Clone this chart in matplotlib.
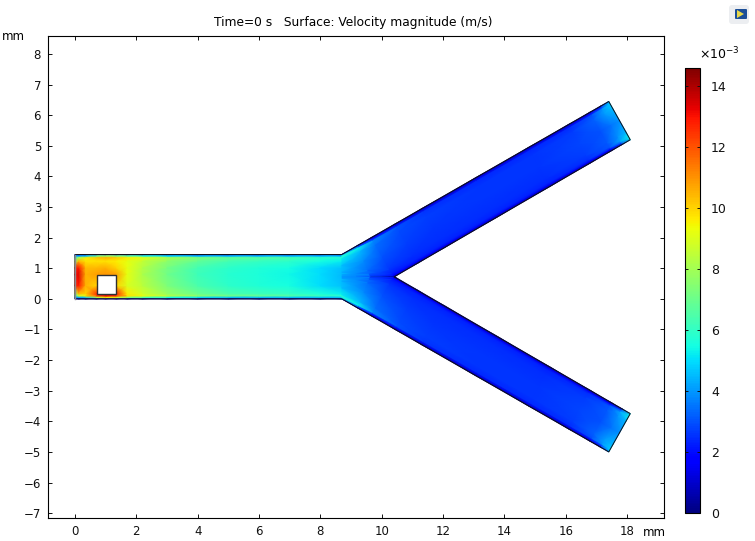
import numpy as np
import matplotlib
matplotlib.use("Agg")
import matplotlib.pyplot as plt
from matplotlib.patches import Rectangle, Polygon, FancyBboxPatch

W, H = 755, 541

# inlet channel, speed in 1e-3 m/s, rows = x stations, columns = across channel
channel_x = [0, 0.12, 0.35, 0.7, 1.0, 1.35, 1.7, 2.2, 3, 4, 5, 6, 7, 8, 8.7]
channel_t = [0, 0.03, 0.07, 0.12, 0.3, 0.55, 0.7, 0.85, 0.93, 0.97, 1]
channel_speed = [
    [2.0, 4.0, 6.0, 8.0, 12.5, 13, 12.5, 8.0, 6, 4, 2.0],
    [1.5, 4.0, 8.5, 10.5, 13, 13.4, 13, 10.5, 8, 4, 1.5],
    [1.0, 4.5, 9.5, 10, 10.5, 10.5, 10.4, 9.8, 9.5, 4.5, 1.0],
    [0.8, 8.0, 12, 12.5, 10, 10.8, 10.4, 9.8, 10.2, 7, 0.8],
    [0.8, 9.5, 13.2, 13.5, 10, 11, 10.6, 9.8, 10.6, 8, 0.8],
    [0.8, 9.0, 12.5, 12.8, 10, 10.8, 10, 9.6, 10.2, 7.5, 0.8],
    [0.8, 7.5, 9.8, 9.6, 9, 9.2, 9.2, 9.2, 9.6, 7, 0.8],
    [0.8, 6.5, 9.2, 8.8, 8.4, 8.2, 8.3, 8.6, 9.2, 6, 0.8],
    [0.8, 5.5, 8.3, 7.8, 7.3, 7.1, 7.2, 7.6, 8.2, 5, 0.8],
    [0.8, 5.0, 7.5, 7.0, 6.4, 6.2, 6.3, 6.8, 7.4, 4.5, 0.8],
    [0.8, 4.5, 7.0, 6.4, 5.9, 5.8, 5.9, 6.3, 6.9, 4.5, 0.8],
    [0.8, 4.5, 6.8, 6.2, 5.7, 5.6, 5.7, 6.1, 6.7, 4.5, 0.8],
    [0.8, 4.5, 6.5, 6.0, 5.5, 5.4, 5.5, 5.9, 6.4, 4.5, 0.8],
    [0.8, 4.5, 6.0, 5.6, 5.0, 5.0, 5.0, 5.5, 5.9, 4.5, 0.8],
    [0.8, 4.5, 5.8, 5.2, 4.6, 4.5, 4.6, 5.2, 5.8, 4.5, 0.8],
]

# outlet branch, rows = stations along the branch, columns = outer wall to inner wall
branch_s = [0, 0.06, 0.11, 0.2, 0.3, 0.5, 0.7, 0.85, 0.93, 0.97, 1]
branch_t = [0, 0.03, 0.08, 0.2, 0.5, 0.8, 0.92, 0.97, 1]
branch_speed = [
    [0.8, 4.5, 5.8, 5.2, 4.6, 4.5, 4.5, 4.5, 4.5],
    [0.6, 2.5, 5.2, 4.4, 3.8, 3.4, 3.2, 3.1, 3.0],
    [0.4, 1.8, 3.8, 3.4, 3.0, 2.6, 2.2, 1.6, 0.4],
    [0.3, 1.4, 3.0, 2.9, 2.7, 2.5, 2.3, 1.5, 0.3],
    [0.2, 1.2, 2.6, 2.7, 2.6, 2.5, 2.3, 1.5, 0.2],
    [0.2, 1.2, 2.4, 2.6, 2.6, 2.5, 2.3, 1.4, 0.2],
    [0.2, 1.2, 2.4, 2.6, 2.6, 2.5, 2.3, 1.4, 0.2],
    [0.2, 1.2, 2.5, 2.7, 2.8, 2.7, 2.5, 1.5, 0.2],
    [0.2, 1.5, 3.0, 3.2, 3.0, 3.1, 3.0, 1.8, 0.2],
    [0.3, 2.5, 4.0, 4.1, 3.5, 3.9, 4.2, 3.0, 0.5],
    [4.0, 5.0, 4.8, 4.5, 3.9, 4.5, 5.2, 5.5, 5.0],
]

# geometry in mm
channel_len = 8.7
channel_w = 1.45
branch_end_outer = (17.4, 6.45)
branch_end_inner = (18.1, 5.2)
crotch = (10.4, 0.72)
hole_x = (0.72, 1.34)
hole_y = (0.16, 0.78)

x_ticks = list(range(0, 20, 2))
y_ticks = list(range(-7, 9))
cbar_ticks = [0, 2, 4, 6, 8, 10, 12, 14]
vmax = 14.6
title = "Time=0 s   Surface: Velocity magnitude (m/s)"


def add_axes_px(fig, left, top, right, bottom):
    return fig.add_axes([left / W, 1 - bottom / H, (right - left) / W, (bottom - top) / H])


def branch_mesh():
    s = np.array(branch_s)
    t = np.array(branch_t)
    outer_x = channel_len + s * (branch_end_outer[0] - channel_len)
    outer_y = channel_w + s * (branch_end_outer[1] - channel_w)
    # inner edge: centre of the channel up to the crotch, then along the wall
    s_c = 0.11
    inner_x = np.interp(s, [0, s_c, 1], [channel_len, crotch[0], branch_end_inner[0]])
    inner_y = np.interp(s, [0, s_c, 1], [channel_w / 2, crotch[1], branch_end_inner[1]])
    X = np.outer(outer_x, 1 - t) + np.outer(inner_x, t)
    Y = np.outer(outer_y, 1 - t) + np.outer(inner_y, t)
    return X, Y


fig = plt.figure(figsize=(W / 100, H / 100), dpi=100)
ax = add_axes_px(fig, 48, 36, 664, 518)

cmap = "jet"
CX, CY = np.meshgrid(channel_x, np.array(channel_t) * channel_w, indexing="ij")
mesh = ax.pcolormesh(CX, CY, np.array(channel_speed), cmap=cmap, vmin=0, vmax=vmax, shading="gouraud")
BX, BY = branch_mesh()
ax.pcolormesh(BX, BY, np.array(branch_speed), cmap=cmap, vmin=0, vmax=vmax, shading="gouraud")
ax.pcolormesh(BX, channel_w - BY, np.array(branch_speed), cmap=cmap, vmin=0, vmax=vmax, shading="gouraud")

# walls
outline = [
    (0, 0), (0, channel_w), (channel_len, channel_w), branch_end_outer, branch_end_inner, crotch,
    (branch_end_inner[0], channel_w - branch_end_inner[1]),
    (branch_end_outer[0], channel_w - branch_end_outer[1]),
    (channel_len, 0),
]
ax.add_patch(Polygon(outline, closed=True, fill=False, edgecolor="#101018", linewidth=0.7, zorder=3))
ax.plot([0, 0], [0, channel_w], color="#8a8a90", linewidth=1.0, zorder=4)
ax.add_patch(Rectangle((hole_x[0], hole_y[0]), hole_x[1] - hole_x[0], hole_y[1] - hole_y[0],
                       facecolor="white", edgecolor="#303030", linewidth=1.0, zorder=4))

ax.set_xlim(-0.88, 19.2)
ax.set_ylim(-7.16, 8.59)
ax.set_xticks(x_ticks)
ax.set_yticks(y_ticks)
ax.tick_params(direction="in", top=True, right=True, length=3, width=0.7, labelsize=8.5, pad=5, colors="#111111")
for sp in ax.spines.values():
    sp.set_linewidth(0.8)
ax.set_title(title, fontsize=8.85, pad=7, x=0.496)

fig.text(2 / W, 1 - 37 / H, "mm", fontsize=8.5, va="center", ha="left")
fig.text(643 / W, 1 - 533 / H, "mm", fontsize=8.5, va="center", ha="left")

# colour bar
cax = add_axes_px(fig, 685, 68, 700, 513)
cb = fig.colorbar(mesh, cax=cax)
cb.set_ticks(cbar_ticks)
cb.ax.tick_params(direction="in", left=True, right=True, length=2.5, width=0.7, labelsize=9, pad=8, colors="#111111")
cb.outline.set_linewidth(0.8)
fig.text(699 / W, 1 - 54 / H, r"$\times$10$^{-3}$", fontsize=9, va="center", ha="left",
         math_fontfamily="dejavusans")

# toolbar icon top right
icon = fig.add_axes([0, 0, 1, 1], facecolor="none")
icon.set_xlim(0, W)
icon.set_ylim(H, 0)
icon.axis("off")
icon.add_patch(FancyBboxPatch((732, 8), 14, 13, boxstyle="round,pad=3", facecolor="#eceef1", edgecolor="none"))
icon.add_patch(FancyBboxPatch((736, 10), 10, 8, boxstyle="round,pad=1", facecolor="#1c4f98", edgecolor="none"))
icon.add_patch(Polygon([(737, 10), (737, 18), (744, 14)], closed=True, facecolor="#e8d84a", edgecolor="none"))

fig.savefig("out.png", dpi=100)
